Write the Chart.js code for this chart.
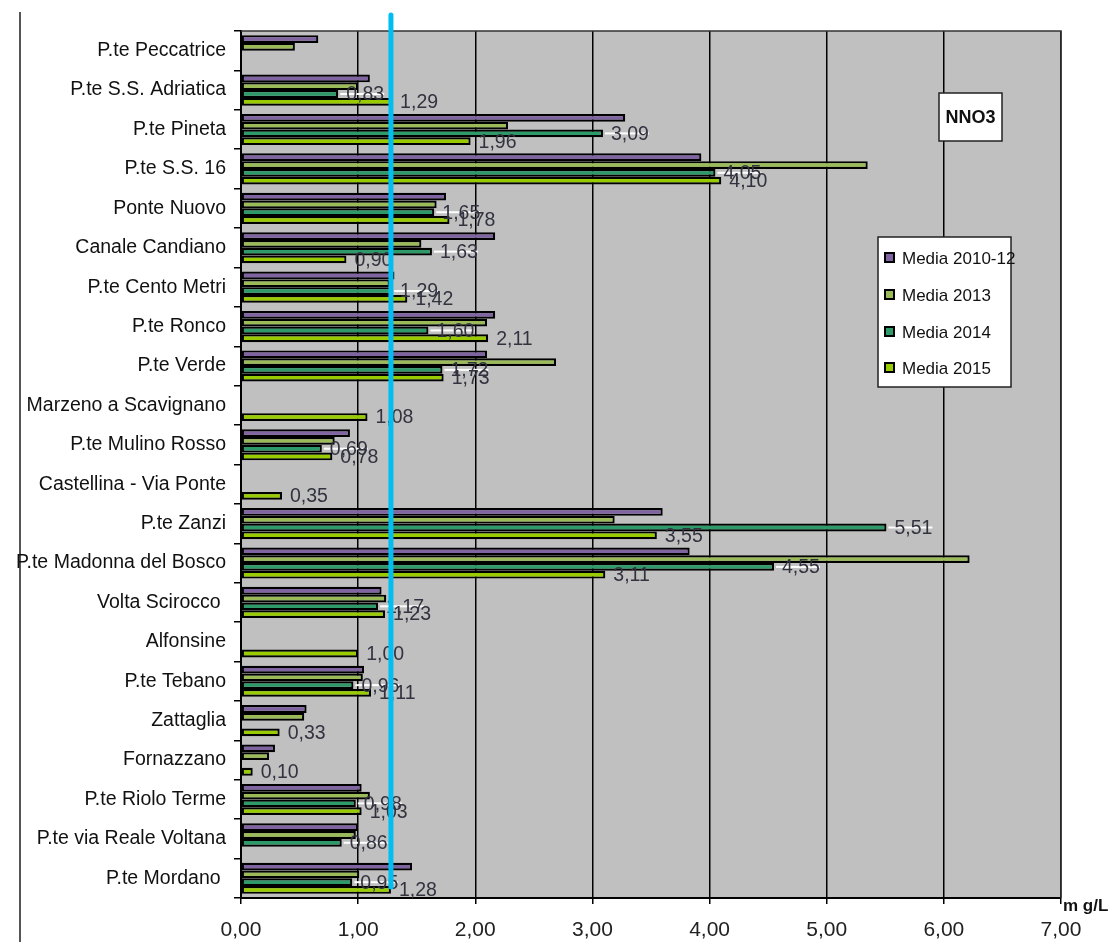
<!DOCTYPE html>
<html>
<head>
<meta charset="utf-8">
<title>NNO3 - medie annuali</title>
<script src="https://cdn.jsdelivr.net/npm/chart.js@4.4.1/dist/chart.umd.min.js"></script>
<style>
  html, body { margin: 0; padding: 0; background: #fff; }
  #wrap { width: 1113px; height: 942px; position: relative; }
</style>
</head>
<body>
<div id="wrap"><canvas id="c" width="1113" height="942"></canvas></div>
<script>
// Stazioni di monitoraggio (dall'alto verso il basso)
const categories = [
  "P.te Peccatrice", "P.te S.S. Adriatica", "P.te Pineta", "P.te S.S. 16",
  "Ponte Nuovo", "Canale Candiano", "P.te Cento Metri", "P.te Ronco",
  "P.te Verde", "Marzeno a Scavignano", "P.te Mulino Rosso",
  "Castellina - Via Ponte", "P.te Zanzi", "P.te Madonna del Bosco",
  "Volta Scirocco ", "Alfonsine", "P.te Tebano", "Zattaglia", "Fornazzano",
  "P.te Riolo Terme", "P.te via Reale Voltana", "P.te Mordano "
];

// Concentrazioni medie di azoto nitrico (mg/L)
const media2010_12 = [0.66, 1.10, 3.28, 3.93, 1.75, 2.17, 1.31, 2.17, 2.10, null, 0.93, null,
                      3.60, 3.83, 1.20, null, 1.05, 0.56, 0.29, 1.03, 1.00, 1.46];
const media2013    = [0.46, 1.00, 2.28, 5.35, 1.67, 1.54, 1.27, 2.10, 2.69, null, 0.80, null,
                      3.19, 6.22, 1.24, null, 1.04, 0.54, 0.24, 1.10, 0.98, 1.01];
const media2014    = [null, 0.83, 3.09, 4.05, 1.65, 1.63, 1.29, 1.60, 1.72, null, 0.69, null,
                      5.51, 4.55, 1.17, null, 0.96, null, null, 0.98, 0.86, 0.95];
const media2015    = [null, 1.29, 1.96, 4.10, 1.78, 0.90, 1.42, 2.11, 1.73, 1.08, 0.78, 0.35,
                      3.55, 3.11, 1.23, 1.00, 1.11, 0.33, 0.10, 1.03, null, 1.28];

const seriesNames = ["Media 2010-12", "Media 2013", "Media 2014", "Media 2015"];
const seriesColors = ["#8064A2", "#9BBB59", "#2E9A6A", "#99CC00"];
const labelledSeries = [2, 3];        // series whose values are printed
const xTicks = [0, 1, 2, 3, 4, 5, 6, 7];
const limitValue = 1.28;              // reference threshold (vertical line)
const unitLabel = "m g/L";
const boxTitle = "NNO3";

const FONT = '"Liberation Sans", Arial, sans-serif';
const fmt = v => v.toFixed(2).replace('.', ',');

const seriesData = [media2010_12, media2013, media2014, media2015];

const decor = {
  id: 'decor',
  beforeDraw(chart) {
    const { ctx, chartArea: a } = chart;
    ctx.save();
    ctx.fillStyle = '#fff';
    ctx.fillRect(0, 0, chart.width, chart.height);
    ctx.fillStyle = '#C0C0C0';
    ctx.fillRect(a.left, a.top, a.right - a.left, a.bottom - a.top);
    // outer frame on the left
    ctx.strokeStyle = '#555';
    ctx.lineWidth = 2;
    ctx.beginPath();
    ctx.moveTo(20, 12);
    ctx.lineTo(20, chart.height);
    ctx.stroke();
    ctx.restore();
  },
  beforeDatasetsDraw(chart) {
    // thin white backing strip behind the 2014 labels
    const { ctx } = chart;
    ctx.save();
    ctx.font = '19.5px ' + FONT;
    ctx.fillStyle = '#fff';
    const meta = chart.getDatasetMeta(2);
    meta.data.forEach((bar, i) => {
      const v = chart.data.datasets[2].data[i];
      if (v == null) return;
      const w = ctx.measureText(fmt(v)).width;
      ctx.fillRect(bar.x + 2, bar.y - 1, w + 6, 2);
    });
    ctx.restore();
  },
  afterDatasetsDraw(chart) {
    const { ctx } = chart;
    ctx.save();
    ctx.font = '19.5px ' + FONT;
    ctx.fillStyle = '#333340';
    ctx.textAlign = 'left';
    ctx.textBaseline = 'middle';
    labelledSeries.forEach(di => {
      const meta = chart.getDatasetMeta(di);
      meta.data.forEach((bar, i) => {
        const v = chart.data.datasets[di].data[i];
        if (v == null) return;
        ctx.fillText(fmt(v), bar.x + 8, bar.y + 1);
      });
    });
    ctx.restore();
  },
  afterDraw(chart) {
    const { ctx, chartArea: a } = chart;
    const xs = chart.scales.x;
    ctx.save();
    // plot frame top/right
    ctx.strokeStyle = '#333';
    ctx.lineWidth = 1.5;
    ctx.beginPath();
    ctx.moveTo(a.left, a.top);
    ctx.lineTo(a.right, a.top);
    ctx.lineTo(a.right, a.bottom);
    ctx.stroke();

    // title box
    ctx.fillStyle = '#fff';
    ctx.fillRect(939, 93, 63, 48);
    ctx.strokeStyle = '#222';
    ctx.lineWidth = 1.5;
    ctx.strokeRect(939, 93, 63, 48);
    ctx.fillStyle = '#111';
    ctx.font = 'bold 18px ' + FONT;
    ctx.textAlign = 'center';
    ctx.textBaseline = 'middle';
    ctx.fillText(boxTitle, 970.5, 118);

    // legend
    ctx.fillStyle = '#fff';
    ctx.fillRect(878, 237, 133, 150);
    ctx.strokeStyle = '#222';
    ctx.strokeRect(878, 237, 133, 150);
    ctx.font = '17px ' + FONT;
    ctx.textAlign = 'left';
    const rows = [258, 295, 332, 368];
    chart.data.datasets.forEach((ds, i) => {
      const y = rows[i];
      ctx.fillStyle = '#000';
      ctx.fillRect(884, y - 6, 11, 11);
      ctx.fillStyle = ds.backgroundColor;
      ctx.fillRect(886, y - 4, 7, 7);
      ctx.fillStyle = '#111';
      ctx.fillText(ds.label, 902, y + 1);
    });

    // unit label
    ctx.font = 'bold 17px ' + FONT;
    ctx.fillStyle = '#111';
    ctx.textBaseline = 'middle';
    ctx.fillText(unitLabel, a.right + 2, a.bottom + 8);

    // threshold line
    const lx = xs.getPixelForValue(limitValue);
    ctx.strokeStyle = '#00BEF2';
    ctx.lineWidth = 5;
    ctx.lineCap = 'round';
    ctx.beginPath();
    ctx.moveTo(lx, 15);
    ctx.lineTo(lx, a.bottom - 11);
    ctx.stroke();
    ctx.restore();
  }
};

new Chart(document.getElementById('c'), {
  type: 'bar',
  data: {
    labels: categories,
    datasets: seriesData.map((d, i) => ({
      label: seriesNames[i],
      data: d,
      backgroundColor: seriesColors[i],
      borderColor: '#000',
      borderWidth: 2.2,
      borderSkipped: false,
      categoryPercentage: 0.79,
      barPercentage: 1.0
    }))
  },
  options: {
    indexAxis: 'y',
    responsive: false,
    animation: false,
    devicePixelRatio: 1,
    layout: { padding: { top: 31, right: 52, left: 0, bottom: 0 } },
    plugins: { legend: { display: false }, tooltip: { enabled: false } },
    scales: {
      x: {
        type: 'linear',
        min: 0, max: 7,
        afterBuildTicks: s => { s.ticks = xTicks.map(v => ({ value: v })); },
        afterFit: s => { s.height = 44; },
        ticks: {
          callback: v => fmt(v),
          font: { family: FONT, size: 21 },
          color: '#222',
          padding: 14,
          maxRotation: 0
        },
        grid: { color: '#000', lineWidth: 1.5, tickLength: 6, drawTicks: true },
        border: { display: true, color: '#000', width: 2 }
      },
      y: {
        type: 'category',
        afterFit: s => { s.width = 241; },
        ticks: {
          autoSkip: false,
          font: { family: FONT, size: 19.5 },
          color: '#111',
          padding: 8
        },
        grid: { drawOnChartArea: false, drawTicks: true, tickLength: 7, offset: true, color: '#000', lineWidth: 1.5 },
        border: { display: true, color: '#000', width: 2 }
      }
    }
  },
  plugins: [decor]
});
</script>
</body>
</html>
